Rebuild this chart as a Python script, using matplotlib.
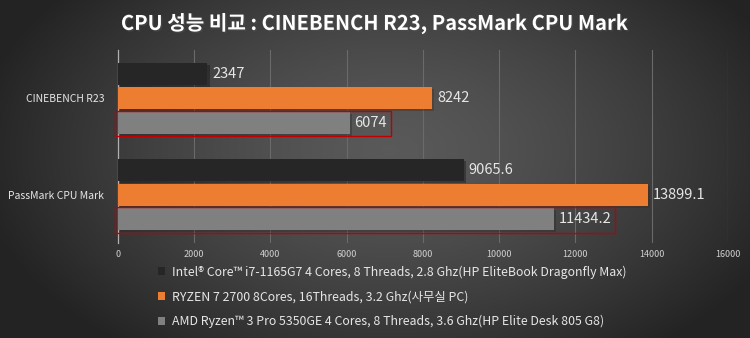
import numpy as np
import matplotlib.pyplot as plt
import matplotlib.patheffects as pe
from matplotlib.patches import Patch, Rectangle

plt.rcParams['font.family'] = ['Noto Sans CJK KR', 'DejaVu Sans']

# data
categories = ["CINEBENCH R23", "PassMark CPU Mark"]
series_names = [
    "Intel® Core™ i7-1165G7 4 Cores, 8 Threads, 2.8 Ghz(HP EliteBook Dragonfly Max)",
    "RYZEN 7 2700 8Cores, 16Threads, 3.2 Ghz(사무실 PC)",
    "AMD Ryzen™ 3 Pro 5350GE 4 Cores, 8 Threads, 3.6 Ghz(HP Elite Desk 805 G8)",
]
intel_vals = [2347, 9065.6]
ryzen7_vals = [8242, 13899.1]
ryzen3_vals = [6074, 11434.2]
value_text = [["2347", "9065.6"], ["8242", "13899.1"], ["6074", "11434.2"]]
xticks = [0, 2000, 4000, 6000, 8000, 10000, 12000, 14000, 16000]

colors = ["#262626", "#ED7D31", "#808080"]
txt_col = "#e6e6e6"

fig = plt.figure(figsize=(7.5, 3.38), dpi=100)

# radial gradient background
bg = fig.add_axes([0, 0, 1, 1], zorder=-5)
yy, xx = np.mgrid[0:338, 0:750]
d = np.sqrt(((xx - 390) / 430.0) ** 2 + ((yy - 150) / 260.0) ** 2)
shade = np.clip(0.35 - 0.22 * d ** 1.4, 0.14, 0.4)
bg.imshow(np.dstack([shade] * 3), aspect='auto', extent=[0, 1, 0, 1])
bg.axis('off')

ax = fig.add_axes([0.1573, 0.281, 0.8133, 0.571])
ax.patch.set_alpha(0)

pos = np.arange(len(categories))
offs = [-0.254, 0.0, 0.254]
h = 0.228
all_vals = [intel_vals, ryzen7_vals, ryzen3_vals]
texts = []
for k, vals in enumerate(all_vals):
    ax.barh(pos + offs[k], vals, height=h, color=colors[k], zorder=3,
            path_effects=[pe.withSimplePatchShadow(offset=(1.5, -1.5), alpha=0.35)])
    row = []
    for i, v in enumerate(vals):
        t = ax.text(v + 130, pos[i] + offs[k], value_text[k][i], color=txt_col,
                    fontsize=10.5, va='center', ha='left', zorder=4)
        row.append(t)
    texts.append(row)

ax.set_xlim(0, 16000)
ax.set_ylim(1.5, -0.5)
ax.set_xticks(xticks)
ax.set_xticklabels([str(x) for x in xticks], color="#d0d0d0", fontsize=6.5)
ax.set_yticks(pos)
ax.set_yticklabels(categories, color=txt_col, fontsize=7.5)
ax.tick_params(axis='x', length=0, pad=5)
ax.tick_params(axis='y', length=0, pad=10)
ax.grid(axis='x', color="#6a6a6a", linewidth=0.8, zorder=0)
for s in ["top", "right", "bottom"]:
    ax.spines[s].set_visible(False)
ax.spines["left"].set_color("#b0b0b0")
ax.spines["left"].set_linewidth(0.9)

# red highlight boxes around the third series
fig.canvas.draw()
renderer = fig.canvas.get_renderer()
for i in range(len(categories)):
    bb = texts[2][i].get_window_extent(renderer).transformed(ax.transData.inverted())
    x0 = -80
    x1 = bb.x1 + 90
    yc = pos[i] + offs[2]
    ax.add_patch(Rectangle((x0, yc - 0.125), x1 - x0, 0.265, fill=False,
                           edgecolor="#c00000", linewidth=1.0, zorder=5, clip_on=False))

fig.text(0.5, 0.93, "CPU 성능 비교 : CINEBENCH R23, PassMark CPU Mark", ha='center',
         va='center', color='white', fontsize=14.5, fontweight='bold',
         path_effects=[pe.withSimplePatchShadow(offset=(1, -1), alpha=0.6)])

handles = [Patch(facecolor=c, edgecolor='none') for c in colors]
fig.legend(handles, series_names, loc='upper left', bbox_to_anchor=(0.21, 0.215),
           frameon=False, fontsize=8.9, labelcolor=txt_col, handlelength=0.6,
           handleheight=0.6, handletextpad=0.55, labelspacing=0.95, borderpad=0,
           borderaxespad=0)

fig.savefig("out.png", dpi=100)
